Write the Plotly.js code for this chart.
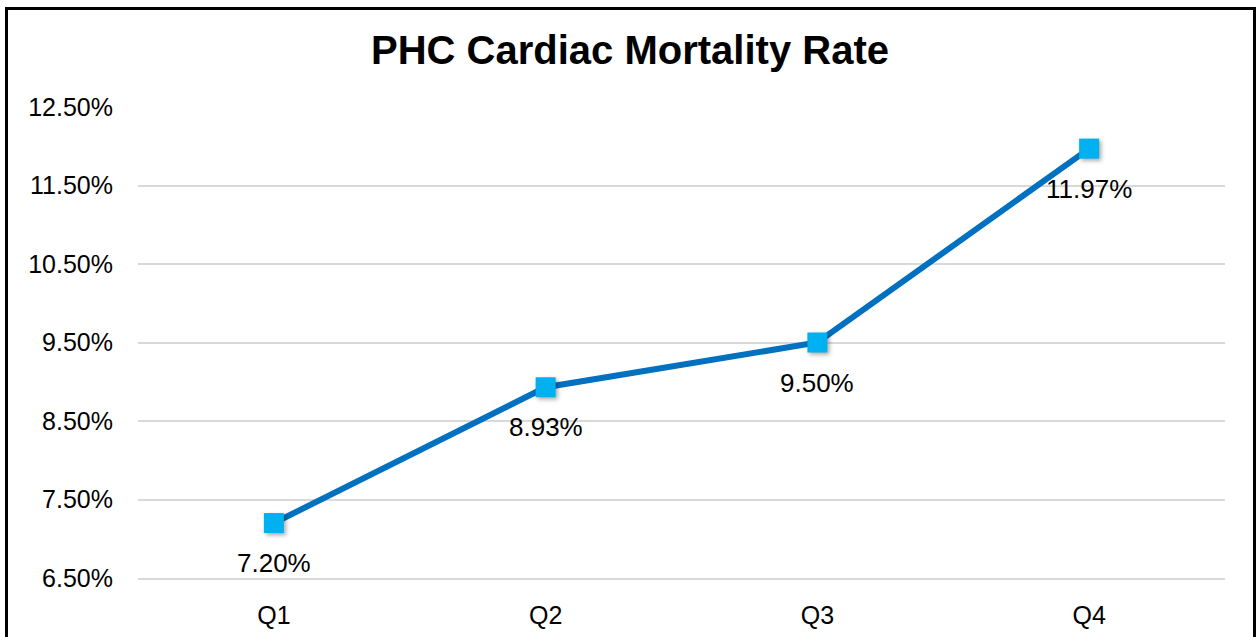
<!DOCTYPE html>
<html>
<head>
<meta charset="utf-8">
<script src="https://cdn.plot.ly/plotly-3.0.1.min.js"></script>
<style>
  html, body { margin: 0; padding: 0; background: #fff; }
  #wrap { position: relative; width: 1257px; height: 637px; }
  #chart { width: 1257px; height: 637px; }
  #frame { position: absolute; left: 5px; top: 7px; width: 1245px; height: 640px;
           border-left: 3px solid #000; border-top: 3px solid #000; border-right: 3px solid #000;
           pointer-events: none; }
  #chart .scatterlayer .points path.point { filter: drop-shadow(2px 2px 2px rgba(0,0,0,0.35)); }
</style>
</head>
<body>
<div id="wrap">
  <div id="chart"></div>
  <div id="frame"></div>
</div>
<script>
const quarters = ["Q1", "Q2", "Q3", "Q4"];
const mortalityRate = [0.0720, 0.0893, 0.0950, 0.1197];
const rateLabels = ["7.20%", "8.93%", "9.50%", "11.97%"];
const yTickValues = [0.065, 0.075, 0.085, 0.095, 0.105, 0.115, 0.125];
const yTickLabels = ["6.50%", "7.50%", "8.50%", "9.50%", "10.50%", "11.50%", "12.50%"];

const FONT = "Liberation Sans, Arial, sans-serif";

const trace = {
  x: quarters,
  y: mortalityRate,
  type: "scatter",
  mode: "lines+markers",
  line: { color: "#0070C0", width: 6 },
  marker: { symbol: "square", size: 20, color: "#00B0F0", line: { width: 0 } },
  hoverinfo: "skip"
};

const annotations = quarters.map((q, i) => ({
  x: q, y: mortalityRate[i], xref: "x", yref: "y",
  text: rateLabels[i], showarrow: false, yshift: -40,
  font: { family: FONT, size: 26, color: "#000" }
}));

const layout = {
  width: 1257, height: 637,
  margin: { l: 138, r: 32, t: 107, b: 59 },
  paper_bgcolor: "#fff", plot_bgcolor: "#fff",
  showlegend: false,
  title: { text: "<b>PHC Cardiac Mortality Rate</b>", x: 630 / 1257, xref: "container", xanchor: "center",
           y: 1 - 50 / 637, yref: "container", yanchor: "middle",
           font: { family: FONT, size: 40, color: "#000" } },
  xaxis: {
    type: "category", range: [-0.5, 3.5],
    showgrid: false, zeroline: false,
    showline: true, linecolor: "#d9d9d9", linewidth: 2,
    ticks: "", ticklabelstandoff: 14,
    tickfont: { family: FONT, size: 25, color: "#000" }
  },
  yaxis: {
    range: [0.065, 0.125], tickvals: yTickValues, ticktext: yTickLabels,
    showgrid: true, gridcolor: "#d9d9d9", gridwidth: 2,
    zeroline: false, showline: false, ticks: "", ticklabelstandoff: 24,
    tickfont: { family: FONT, size: 25, color: "#000" }
  },
  annotations: annotations
};

Plotly.newPlot("chart", [trace], layout, { displayModeBar: false, staticPlot: true });
</script>
</body>
</html>
